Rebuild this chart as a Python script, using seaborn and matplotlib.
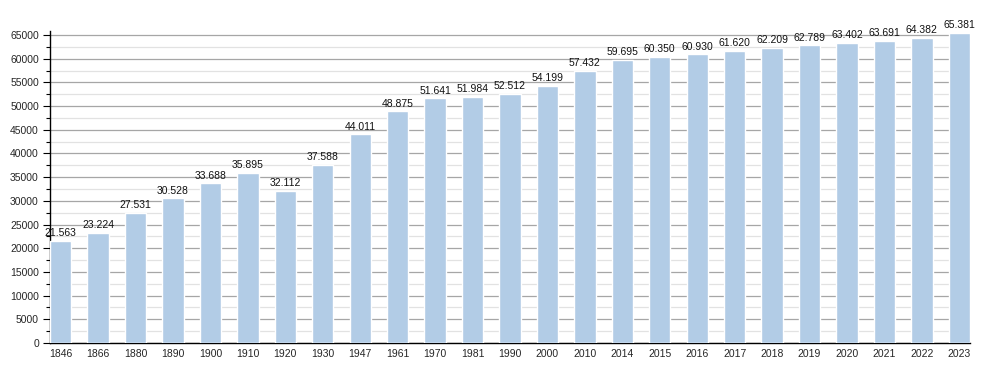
import pandas as pd
import matplotlib.pyplot as plt
import seaborn as sns
from matplotlib.ticker import MultipleLocator

# population by census year
years = ["1846", "1866", "1880", "1890", "1900", "1910", "1920", "1930", "1947",
         "1961", "1970", "1981", "1990", "2000", "2010", "2014", "2015", "2016",
         "2017", "2018", "2019", "2020", "2021", "2022", "2023"]
population = [21563, 23224, 27531, 30528, 33688, 35895, 32112, 37588, 44011,
              48875, 51641, 51984, 52512, 54199, 57432, 59695, 60350, 60930,
              61620, 62209, 62789, 63402, 63691, 64382, 65381]

data = pd.DataFrame({"year": years, "population": population})

sns.set_style("white")
plt.rcParams["font.family"] = ["Liberation Sans", "DejaVu Sans"]

fig = plt.figure(figsize=(10, 3.73), dpi=100)
ax = fig.add_axes([0.05, 0.0804, 0.92, 0.8372])

bar_w = 0.57
sns.barplot(x="year", y="population", data=data, color="#b2cce6",
            saturation=1, width=bar_w, ax=ax, zorder=3)

# value labels with dot as thousands separator
labels = [f"{v:,}".replace(",", ".") for v in population]
ax.bar_label(ax.containers[0], labels=labels, padding=2, fontsize=7.5, color="#111111")

ax.set_xlim(-bar_w / 2, len(years) - 1 + bar_w / 2)
ax.set_ylim(0, 65900)
ax.yaxis.set_major_locator(MultipleLocator(5000))
ax.yaxis.set_minor_locator(MultipleLocator(2500))
ax.set_yticks(range(0, 65001, 5000))
ax.grid(axis="y", which="major", color="#a6a6a6", linewidth=0.9, zorder=0)
ax.grid(axis="y", which="minor", color="#e2e2e2", linewidth=0.9, zorder=0)
ax.set_axisbelow(True)

for s in ["top", "right"]:
    ax.spines[s].set_visible(False)
ax.spines["left"].set_color("black")
ax.spines["bottom"].set_color("black")
ax.spines["left"].set_linewidth(1)
ax.spines["bottom"].set_linewidth(1)

ax.tick_params(axis="y", which="major", length=5, width=0.8, left=True,
               labelsize=7.5, pad=3, color="black")
ax.tick_params(axis="y", which="minor", length=3, width=0.8, left=True, color="black")
ax.tick_params(axis="x", length=0, labelsize=7.5, pad=4)
ax.set_xlabel("")
ax.set_ylabel("")

fig.savefig("out.png", dpi=100)
